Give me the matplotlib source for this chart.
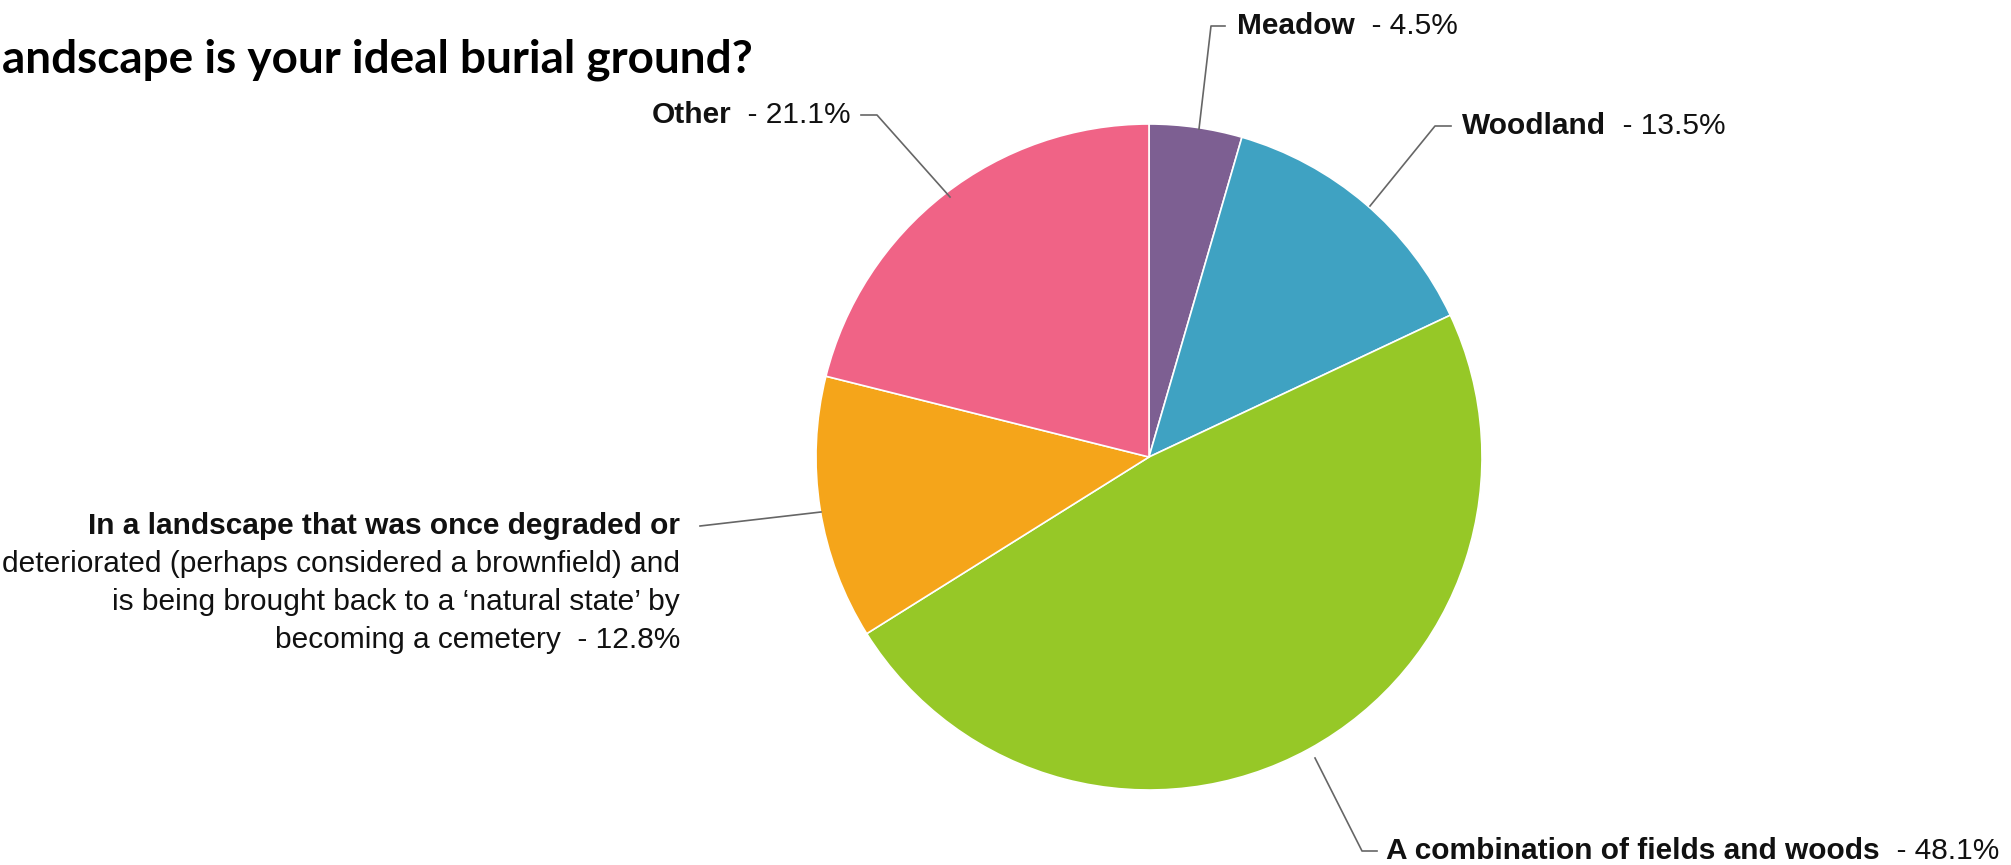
import matplotlib
matplotlib.use("Agg")
import matplotlib.pyplot as plt

### data
names = ['Meadow', 'Woodland', 'A combination of fields and woods',
         'In a landscape that was once degraded or', 'Other']
shares = [4.5, 13.5, 48.1, 12.8, 21.1]
colors = ['#7d5f92', '#3fa2c2', '#96c827', '#f5a51a', '#f06386']
degraded_rest = ['deteriorated (perhaps considered a brownfield) and',
                 'is being brought back to a \u2018natural state\u2019 by',
                 'becoming a cemetery  - 12.8%']
title = 'andscape is your ideal burial ground?'

W, H = 2011, 865
fig = plt.figure(figsize=(W / 100, H / 100), dpi=100)
ax = fig.add_axes([0, 0, 1, 1])

cx, cy, r = 1149, H - 457, 333
ax.pie(shares, colors=colors, startangle=90, counterclock=False,
       center=(cx, cy), radius=r,
       wedgeprops=dict(edgecolor='white', linewidth=1.2))
ax.set_xlim(0, W)
ax.set_ylim(0, H)
ax.set_aspect('equal')
ax.axis('off')

lab = dict(family='Liberation Sans', fontsize=21.5, color='#111111')
line_kw = dict(color='#666666', lw=1.2)


def yy(v):
    return H - v


### leader lines (image pixel coords, y downwards)
leaders = [
    [(1199, 129), (1211, 26), (1225, 26)],
    [(1370, 206), (1435, 126), (1451, 126)],
    [(1315, 758), (1362, 851), (1377, 851)],
    [(821, 512), (700, 526)],
    [(950, 197), (877, 115), (861, 115)],
]
for pts in leaders:
    ax.plot([p[0] for p in pts], [yy(p[1]) for p in pts], **line_kw)

# labels on the right: bold name then regular percentage
for i, (x, y) in zip([0, 1, 2], [(1237, 26), (1462, 126), (1386, 851)]):
    t = ax.text(x, yy(y), names[i], ha='left', va='center', weight='bold', **lab)
    ax.annotate('  - %.1f%%' % shares[i], xy=(1, 0.5), xycoords=t,
                ha='left', va='center', **lab)

# Other: right aligned
t = ax.text(851, yy(115), '  - %.1f%%' % shares[4], ha='right', va='center', **lab)
ax.annotate(names[4], xy=(0, 0.5), xycoords=t, ha='right', va='center',
            weight='bold', **lab)

# degraded label, several lines right aligned
ax.text(680, yy(526), names[3], ha='right', va='center', weight='bold', **lab)
for k, s in enumerate(degraded_rest):
    ax.text(680, yy(526 + 38 * (k + 1)), s, ha='right', va='center', **lab)

ax.text(2, yy(60), title, ha='left', va='center', family='Lato',
        weight='bold', fontsize=33, color='black')

fig.savefig('out.png', dpi=100)
